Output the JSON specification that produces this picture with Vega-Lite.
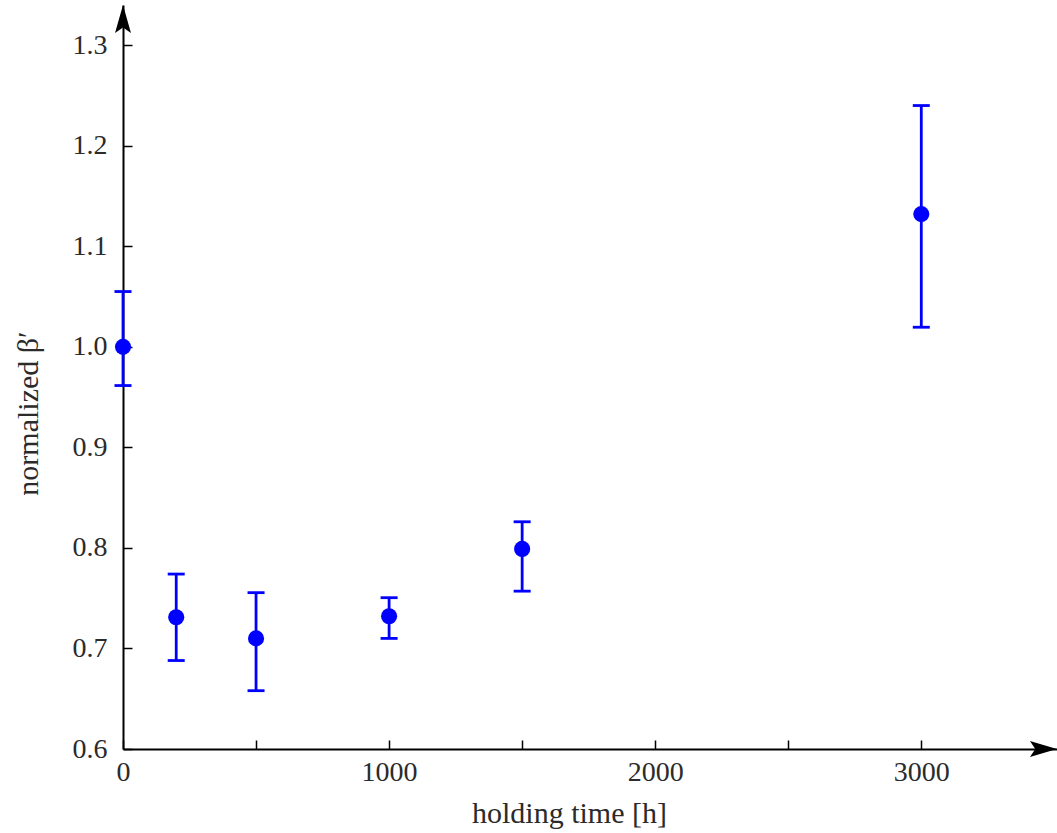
{
  "$schema": "https://vega.github.io/schema/vega-lite/v6.json",
  "autosize": "none",
  "padding": {"left": 123, "top": 5, "right": 0, "bottom": 84},
  "width": 934,
  "height": 744,
  "background": "white",
  "config": {
    "view": {"stroke": null},
    "font": "Liberation Serif",
    "axis": {
      "labelFont": "Liberation Serif",
      "titleFont": "Liberation Serif",
      "labelFontSize": 28,
      "titleFontSize": 30,
      "labelColor": "#2b2b2b",
      "titleColor": "#2b2b2b",
      "titleFontWeight": "normal",
      "domainColor": "black",
      "domainWidth": 2,
      "tickColor": "black",
      "tickWidth": 1.5,
      "tickSize": -9,
      "grid": false
    }
  },
  "datasets": {
    "points": [
      {"time": 0, "beta": 1.0, "lo": 0.9615, "hi": 1.055},
      {"time": 200, "beta": 0.731, "lo": 0.688, "hi": 0.774},
      {"time": 500, "beta": 0.710, "lo": 0.658, "hi": 0.7555},
      {"time": 1000, "beta": 0.732, "lo": 0.710, "hi": 0.7505},
      {"time": 1500, "beta": 0.799, "lo": 0.757, "hi": 0.826},
      {"time": 3000, "beta": 1.132, "lo": 1.0195, "hi": 1.24}
    ],
    "arrowX": [{"time": 3459, "beta": 0.6}],
    "arrowY": [{"time": 0, "beta": 1.326}]
  },
  "encoding": {
    "x": {
      "field": "time",
      "type": "quantitative",
      "scale": {"domain": [0, 3510], "nice": false, "zero": false},
      "axis": {
        "title": "holding time [h]",
        "values": [0, 500, 1000, 1500, 2000, 2500, 3000],
        "labelExpr": "datum.value % 1000 === 0 ? format(datum.value, 'd') : ''",
        "labelPadding": 18,
        "labelFlush": false,
        "labelOverlap": false,
        "titleX": 446,
        "titleY": 73,
        "titleBaseline": "alphabetic"
      }
    },
    "y": {
      "field": "beta",
      "type": "quantitative",
      "scale": {"domain": [0.6, 1.34], "nice": false, "zero": false},
      "axis": {
        "title": "normalized β′",
        "values": [0.6, 0.7, 0.8, 0.9, 1.0, 1.1, 1.2, 1.3],
        "format": ".1f",
        "labelPadding": 25,
        "labelFlush": false,
        "labelOverlap": false,
        "titleX": -80,
        "titleY": 408,
        "titleAngle": -90,
        "titleBaseline": "bottom",
        "titleAlign": "center"
      }
    }
  },
  "layer": [
    {
      "data": {"name": "points"},
      "mark": {"type": "rule", "color": "#0000ff", "strokeWidth": 2.8},
      "encoding": {"y": {"field": "lo", "type": "quantitative"}, "y2": {"field": "hi"}}
    },
    {
      "data": {"name": "points"},
      "mark": {"type": "tick", "orient": "horizontal", "color": "#0000ff", "opacity": 1, "size": 17, "thickness": 2.8},
      "encoding": {"y": {"field": "lo", "type": "quantitative"}}
    },
    {
      "data": {"name": "points"},
      "mark": {"type": "tick", "orient": "horizontal", "color": "#0000ff", "opacity": 1, "size": 17, "thickness": 2.8},
      "encoding": {"y": {"field": "hi", "type": "quantitative"}}
    },
    {
      "data": {"name": "points"},
      "mark": {"type": "point", "filled": true, "color": "#0000ff", "opacity": 1, "size": 260, "shape": "circle"}
    },
    {
      "data": {"name": "arrowX"},
      "mark": {"type": "point", "filled": true, "color": "black", "opacity": 1, "size": 729, "shape": "M1,0 L-1,-0.6 L-0.6,0 L-1,0.6 Z", "clip": false}
    },
    {
      "data": {"name": "arrowY"},
      "mark": {"type": "point", "filled": true, "color": "black", "opacity": 1, "size": 784, "shape": "M0,-1 L-0.57,1 L0,0.6 L0.57,1 Z", "clip": false}
    }
  ]
}
